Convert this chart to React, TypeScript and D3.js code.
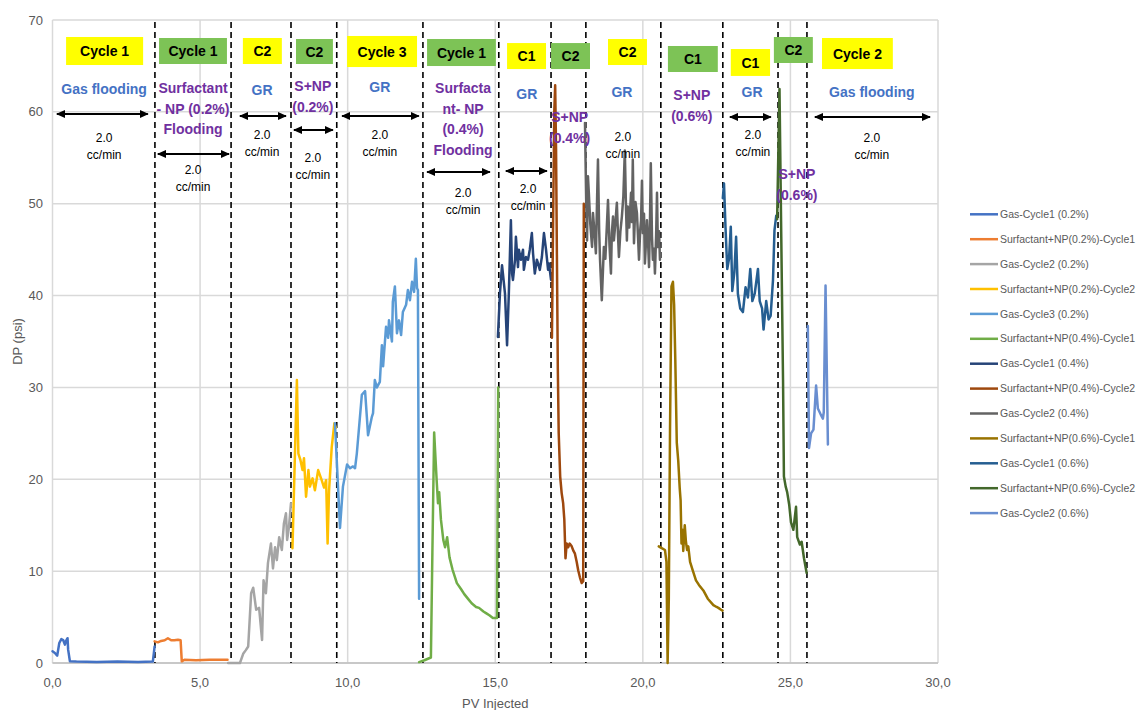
import React from "react";
import * as d3 from "d3";

// ---------- DATA ----------
const xTicks = [0, 5, 10, 15, 20, 25, 30];
const yTicks = [0, 10, 20, 30, 40, 50, 60, 70];

const seriesNames = [
  "Gas-Cycle1 (0.2%)",
  "Surfactant+NP(0.2%)-Cycle1",
  "Gas-Cycle2 (0.2%)",
  "Surfactant+NP(0.2%)-Cycle2",
  "Gas-Cycle3 (0.2%)",
  "Surfactant+NP(0.4%)-Cycle1",
  "Gas-Cycle1 (0.4%)",
  "Surfactant+NP(0.4%)-Cycle2",
  "Gas-Cycle2 (0.4%)",
  "Surfactant+NP(0.6%)-Cycle1",
  "Gas-Cycle1 (0.6%)",
  "Surfactant+NP(0.6%)-Cycle2",
  "Gas-Cycle2 (0.6%)",
];

const gasC1_02: [number, number][] = [
  [0, 1.27], [0.08, 1.09], [0.16, 0.8], [0.23, 2.18], [0.3, 2.6], [0.36, 2.5], [0.42, 2.0],
  [0.45, 2.36], [0.51, 2.7], [0.53, 1.45], [0.59, 0.18], [0.81, 0.15], [1.5, 0.12], [2.2, 0.15],
  [2.9, 0.12], [3.4, 0.15], [3.46, 1.8],
];
const surf02_C1: [number, number][] = [
  [3.46, 2.36], [3.57, 2.25], [3.68, 2.4], [3.8, 2.47], [3.91, 2.7], [4.02, 2.47], [4.13, 2.47],
  [4.25, 2.54], [4.34, 2.47], [4.38, 0.18], [4.47, 0.36], [4.86, 0.3], [5.32, 0.36], [5.93, 0.36],
];
const gasC2_02: [number, number][] = [
  [5.95, 0], [6.35, 0], [6.46, 1.0], [6.55, 1.4], [6.63, 1.8], [6.73, 7.6], [6.8, 8.2], [6.9, 5.8],
  [7.0, 6.0], [7.1, 2.5], [7.15, 9.0], [7.23, 7.6], [7.3, 10.9], [7.4, 13.0], [7.47, 10.3],
  [7.54, 12.6], [7.6, 11.2], [7.68, 13.7], [7.77, 12.3], [7.84, 15.2], [7.91, 16.3], [7.95, 13.4],
  [8.01, 14.8], [8.08, 17.4],
];
const surf02_C2: [number, number][] = [
  [8.13, 12.5], [8.28, 30.8], [8.33, 22.8], [8.4, 22.1], [8.47, 21.0], [8.52, 22.3], [8.59, 18.1],
  [8.67, 21.0], [8.72, 19.2], [8.81, 20.1], [8.89, 18.8], [9.0, 21.0], [9.12, 19.9], [9.2, 19.1],
  [9.27, 19.9], [9.32, 13.0], [9.37, 18.8], [9.46, 23.5], [9.55, 26.1], [9.6, 25.6],
];
const gasC3_02: [number, number][] = [
  [9.57, 26.1], [9.74, 14.7], [9.84, 19.2], [9.98, 21.6], [10.08, 21.2], [10.18, 21.4],
  [10.25, 21.2], [10.31, 22.8], [10.48, 29.2], [10.59, 29.6], [10.65, 26.8], [10.69, 24.8],
  [10.82, 26.8], [10.86, 27.2], [10.92, 30.8], [10.99, 30.0], [11.09, 30.6], [11.16, 34.6],
  [11.2, 32.3], [11.3, 36.6], [11.37, 35.4], [11.4, 37.3], [11.5, 35.0], [11.53, 39.3],
  [11.6, 41.0], [11.67, 35.9], [11.74, 37.3], [11.81, 35.7], [11.87, 38.2], [11.98, 39.0],
  [12.04, 40.6], [12.11, 39.5], [12.18, 41.5], [12.25, 40.4], [12.31, 44.0], [12.35, 40.8],
  [12.38, 40.6], [12.42, 7.0],
];
const surf04_C1: [number, number][] = [
  [12.42, 0.1], [12.6, 0.3], [12.82, 0.6], [12.87, 12], [12.93, 25.1], [12.98, 22], [13.02, 19.6],
  [13.06, 17.4], [13.1, 18.6], [13.16, 15.6], [13.24, 13.4], [13.3, 12.6], [13.37, 13.7],
  [13.45, 11.5], [13.55, 10.2], [13.7, 8.7], [13.85, 8.0], [13.95, 7.5], [14.1, 6.9], [14.2, 6.5],
  [14.35, 6.1], [14.45, 6.0], [14.6, 5.6], [14.7, 5.4], [14.8, 5.2], [14.92, 4.9], [15.06, 4.9],
  [15.1, 30],
];
const gasC1_04: [number, number][] = [
  [15.09, 35.5], [15.16, 40.3], [15.23, 43.3], [15.26, 42.4], [15.33, 40.2], [15.4, 34.6],
  [15.46, 40.2], [15.53, 48.2], [15.57, 42.4], [15.6, 41.7], [15.67, 43.9], [15.7, 46.4],
  [15.77, 43.1], [15.8, 45.0], [15.87, 43.9], [15.94, 45.0], [15.97, 42.8], [16.04, 44.2],
  [16.11, 43.9], [16.17, 45.0], [16.24, 46.8], [16.28, 44.6], [16.34, 42.4], [16.41, 43.9],
  [16.45, 43.5], [16.51, 42.8], [16.58, 44.2], [16.65, 46.8], [16.72, 45.0], [16.79, 42.8],
  [16.82, 43.5], [16.89, 41.7],
];
const surf04_C2: [number, number][] = [
  [16.92, 35.4], [16.96, 48], [17.0, 60], [17.03, 62.9], [17.06, 56], [17.09, 43.9], [17.12, 32],
  [17.15, 25], [17.2, 20.3], [17.25, 18.5], [17.3, 17.4], [17.34, 15.6], [17.38, 11.4],
  [17.42, 13.0], [17.47, 12.6], [17.52, 13.0], [17.59, 12.7], [17.65, 12.2], [17.7, 11.9],
  [17.76, 11.0], [17.81, 10.1], [17.87, 9.3], [17.93, 8.7], [17.98, 8.9], [18.0, 50],
];
const gasC2_04: [number, number][] = [
  [18.04, 58.8], [18.08, 50.5], [18.11, 46], [18.14, 53], [18.17, 51.2], [18.22, 47.8],
  [18.28, 45.3], [18.31, 49], [18.36, 47], [18.41, 44.6], [18.45, 50.5], [18.48, 54.8],
  [18.52, 47.2], [18.55, 43.9], [18.61, 39.5], [18.65, 42.8], [18.68, 45.3], [18.73, 44.0],
  [18.78, 47.5], [18.82, 50.4], [18.87, 45.5], [18.92, 42.4], [18.95, 46.8], [18.99, 48.6],
  [19.02, 46], [19.07, 47.9], [19.12, 50.1], [19.16, 46.5], [19.19, 44.2], [19.24, 47.0],
  [19.29, 48.6], [19.34, 50.8], [19.39, 55.8], [19.43, 49.5], [19.46, 46], [19.49, 49.7],
  [19.54, 47.4], [19.6, 51.2], [19.63, 48.0], [19.66, 54.8], [19.7, 45.7], [19.75, 50.2],
  [19.8, 49], [19.84, 46.2], [19.87, 43.9], [19.91, 47.1], [19.94, 48.2], [19.97, 52.5],
  [20.0, 46.8], [20.04, 48.9], [20.07, 43.5], [20.11, 46.0], [20.14, 48.2], [20.18, 45.6],
  [20.21, 43.1], [20.24, 47.7], [20.27, 54.4], [20.31, 46.4], [20.34, 43.9], [20.38, 45.1],
  [20.41, 42.4], [20.45, 46.5], [20.48, 51.2], [20.51, 45.3], [20.55, 47.0], [20.58, 43.9],
];
const surf06_C1: [number, number][] = [
  [20.54, 12.7], [20.64, 12.5], [20.75, 12.3], [20.8, 11.0], [20.84, 0], [20.88, 7], [20.92, 25],
  [20.97, 41.0], [21.02, 41.5], [21.06, 39], [21.1, 33], [21.15, 24], [21.2, 22], [21.25, 19],
  [21.28, 17.7], [21.31, 13.0], [21.34, 14.5], [21.37, 12.2], [21.42, 15.0], [21.46, 13.2],
  [21.5, 12.3], [21.54, 12.7], [21.6, 11.0], [21.71, 9.9], [21.8, 9.0], [21.9, 8.5],
  [22.05, 7.9], [22.2, 7.0], [22.39, 6.3], [22.5, 6.1], [22.56, 6.0], [22.65, 5.8], [22.7, 5.7],
];
const gasC1_06: [number, number][] = [
  [22.71, 50.6], [22.75, 52.2], [22.8, 47.5], [22.86, 42.9], [22.92, 44.0], [22.98, 47.5],
  [23.03, 40.5], [23.1, 42.5], [23.16, 46.4], [23.22, 40.2], [23.3, 38.6], [23.39, 38.2],
  [23.48, 40.9], [23.56, 39.8], [23.64, 42.9], [23.71, 39.4], [23.79, 40.2], [23.9, 42.9],
  [23.96, 39.4], [24.04, 38.6], [24.09, 36.3], [24.18, 39.4], [24.26, 37.4], [24.33, 37.8],
  [24.41, 41.7], [24.46, 47.1], [24.52, 48.7],
];
const surf06_C2: [number, number][] = [
  [24.55, 48.3], [24.63, 62.5], [24.69, 46.4], [24.75, 30.8], [24.78, 20.3], [24.84, 19.2],
  [24.89, 18.6], [24.96, 17.2], [25.02, 15.3], [25.1, 14.5], [25.19, 17.0], [25.23, 13.7],
  [25.32, 12.9], [25.38, 13.2], [25.46, 11.4], [25.55, 9.8],
];
const gasC2_06: [number, number][] = [
  [25.59, 36.7], [25.63, 23.4], [25.7, 25.0], [25.78, 25.4], [25.87, 30.2], [25.93, 27.7],
  [26.02, 27.1], [26.1, 26.6], [26.13, 27.3], [26.19, 41.1], [26.27, 23.8],
];

const seriesData = [
  gasC1_02, surf02_C1, gasC2_02, surf02_C2, gasC3_02, surf04_C1, gasC1_04,
  surf04_C2, gasC2_04, surf06_C1, gasC1_06, surf06_C2, gasC2_06,
];

// stage boundaries (PV injected)
const stageBoundaries = [3.47, 6.05, 8.08, 9.63, 12.55, 15.12, 16.89, 18.07, 20.61, 22.71, 24.58, 25.56];

// cycle tags: label, kind, x0, x1, yTop, yBottom (data units)
const tagLabels = ["Cycle 1", "Cycle 1", "C2", "C2", "Cycle 3", "Cycle 1", "C1", "C2", "C2", "C1", "C1", "C2", "Cycle 2"];
const tagKinds = ["gas", "surf", "gas", "surf", "gas", "surf", "gas", "surf", "gas", "surf", "gas", "surf", "gas"];
const tagX0 = [0.46, 3.61, 6.45, 8.25, 9.98, 12.69, 15.4, 16.89, 18.82, 20.85, 22.98, 24.44, 26.07];
const tagX1 = [3.07, 5.91, 7.77, 9.5, 12.35, 15.02, 16.72, 18.21, 20.14, 22.54, 24.31, 25.76, 28.47];
const tagYTop = [68.15, 68.04, 68.04, 67.93, 68.26, 67.93, 67.49, 67.49, 67.93, 67.17, 66.84, 68.15, 68.04];
const tagYBot = [65.1, 65.21, 65.21, 65.21, 64.88, 64.99, 64.66, 64.66, 65.1, 64.34, 63.91, 65.32, 64.66];

// stage descriptions: lines, kind, x, y of first line (data units)
const stageLines = [
  ["Gas flooding"],
  ["Surfactant", "- NP (0.2%)", "Flooding"],
  ["GR"],
  ["S+NP", "(0.2%)"],
  ["GR"],
  ["Surfacta", "nt- NP", "(0.4%)", "Flooding"],
  ["GR"],
  ["S+NP", "(0.4%)"],
  ["GR"],
  ["S+NP", "(0.6%)"],
  ["GR"],
  ["S+NP", "(0.6%)"],
  ["Gas flooding"],
];
const stageKinds = ["gas", "surf", "gas", "surf", "gas", "surf", "gas", "surf", "gas", "surf", "gas", "surf", "gas"];
const stageX = [1.75, 4.76, 7.1, 8.82, 11.09, 13.91, 16.07, 17.52, 19.29, 21.66, 23.7, 25.22, 27.76];
const stageY = [62.49, 62.6, 62.4, 62.8, 62.7, 62.6, 61.9, 59.4, 62.2, 61.83, 62.2, 53.2, 62.2];

// rate notes "2.0 cc/min"
const rateValue = "2.0";
const rateUnit = "cc/min";
const rateX = [1.75, 4.76, 7.1, 8.82, 11.09, 13.91, 16.11, 19.32, 23.73, 27.76];
const rateY = [57.15, 53.67, 57.48, 54.97, 57.48, 51.16, 51.6, 57.26, 57.48, 57.15];

// double arrows (x0, x1, y)
const arrowX0 = [0.15, 3.57, 6.35, 8.18, 9.81, 12.69, 15.36, 22.95, 25.83];
const arrowX1 = [3.23, 5.98, 7.91, 9.5, 12.41, 14.82, 16.75, 24.34, 29.73];
const arrowY = [59.77, 55.41, 59.55, 58.03, 59.55, 53.45, 53.56, 59.44, 59.44];

const xTitle = "PV Injected";
const yTitle = "DP (psi)";

// ---------- STYLE ----------
const seriesColors = [
  "#4472C4", "#ED7D31", "#A5A5A5", "#FFC000", "#5B9BD5", "#70AD47", "#264478",
  "#9E480E", "#636363", "#997300", "#255E91", "#43682B", "#698ED0",
];
const W = 1139;
const H = 710;
const plot = { left: 52.5, right: 938, top: 20, bottom: 663 };
const FONT = "'Liberation Sans', Arial, sans-serif";
const tagFill: Record<string, string> = { gas: "#FFFF00", surf: "#7DC356" };
const textFill: Record<string, string> = { gas: "#4472C4", surf: "#7030A0" };

export default function App() {
  const x = d3.scaleLinear().domain([0, 30]).range([plot.left, plot.right]);
  const y = d3.scaleLinear().domain([0, 70]).range([plot.bottom, plot.top]);
  const line = d3
    .line<[number, number]>()
    .x((d) => x(d[0]))
    .y((d) => y(d[1]));
  const fmt = (v: number) => d3.format(".1f")(v).replace(".", ",");

  return (
    <svg
      width={W}
      height={H}
      style={{ position: "absolute", left: 0, top: 0, background: "#fff" }}
      fontFamily={FONT}
    >
      <defs>
        <marker
          id="ah"
          viewBox="0 0 10 10"
          refX="9"
          refY="5"
          markerWidth="9"
          markerHeight="9"
          markerUnits="userSpaceOnUse"
          orient="auto-start-reverse"
        >
          <path d="M0,0.5 L10,5 L0,9.5 z" fill="#000" />
        </marker>
      </defs>
      <rect x={0} y={0} width={W} height={H} fill="#fff" />

      {/* grid */}
      {yTicks.map((t) => (
        <line key={"gy" + t} x1={plot.left} x2={plot.right} y1={y(t)} y2={y(t)} stroke="#D9D9D9" strokeWidth={1.5} />
      ))}
      {xTicks.map((t) => (
        <line key={"gx" + t} x1={x(t)} x2={x(t)} y1={plot.top} y2={plot.bottom} stroke="#D9D9D9" strokeWidth={1.5} />
      ))}
      <line x1={plot.left} x2={plot.right} y1={plot.bottom} y2={plot.bottom} stroke="#BFBFBF" strokeWidth={1.5} />

      {/* tick labels */}
      {yTicks.map((t) => (
        <text key={"ly" + t} x={43} y={y(t)} dy="0.35em" textAnchor="end" fontSize={13} fill="#595959">
          {t}
        </text>
      ))}
      {xTicks.map((t) => (
        <text key={"lx" + t} x={x(t)} y={687} textAnchor="middle" fontSize={13} fill="#595959">
          {fmt(t)}
        </text>
      ))}
      <text x={(plot.left + plot.right) / 2} y={708} textAnchor="middle" fontSize={13} fill="#595959">
        {xTitle}
      </text>
      <text
        transform={`translate(22,${(plot.top + plot.bottom) / 2}) rotate(-90)`}
        textAnchor="middle"
        fontSize={13}
        fill="#595959"
      >
        {yTitle}
      </text>

      {/* stage boundaries */}
      {stageBoundaries.map((b, i) => (
        <line
          key={"sb" + i}
          x1={x(b)}
          x2={x(b)}
          y1={plot.top + 2}
          y2={plot.bottom}
          stroke="#000"
          strokeWidth={1.6}
          strokeDasharray="6,4"
        />
      ))}

      {/* series */}
      {seriesData.map((s, i) => (
        <path
          key={"s" + i}
          d={line(s) || ""}
          fill="none"
          stroke={seriesColors[i]}
          strokeWidth={2.5}
          strokeLinejoin="round"
          strokeLinecap="round"
        />
      ))}

      {/* cycle tags */}
      {tagLabels.map((lab, i) => {
        const x0 = x(tagX0[i]);
        const x1 = x(tagX1[i]);
        const y0 = y(tagYTop[i]);
        const y1 = y(tagYBot[i]);
        return (
          <g key={"tag" + i}>
            <rect x={x0} y={y0} width={x1 - x0} height={y1 - y0} fill={tagFill[tagKinds[i]]} />
            <text x={(x0 + x1) / 2} y={(y0 + y1) / 2} dy="0.36em" textAnchor="middle" fontSize={14} fontWeight="bold" fill="#000">
              {lab}
            </text>
          </g>
        );
      })}

      {/* stage descriptions */}
      {stageLines.map((lines, i) => (
        <text
          key={"st" + i}
          x={x(stageX[i])}
          y={y(stageY[i])}
          textAnchor="middle"
          fontSize={14}
          fontWeight="bold"
          fill={textFill[stageKinds[i]]}
        >
          {lines.map((l, j) => (
            <tspan key={j} x={x(stageX[i])} y={y(stageY[i]) + j * 20.5} dy="0.36em">
              {l}
            </tspan>
          ))}
        </text>
      ))}

      {/* rate notes */}
      {rateX.map((rx, i) => (
        <text key={"r" + i} x={x(rx)} y={y(rateY[i])} textAnchor="middle" fontSize={12} fill="#000">
          <tspan x={x(rx)} dy="0.36em">{rateValue}</tspan>
          <tspan x={x(rx)} dy={16.5}>{rateUnit}</tspan>
        </text>
      ))}

      {/* arrows */}
      {arrowX0.map((ax, i) => (
        <line
          key={"a" + i}
          x1={x(ax)}
          x2={x(arrowX1[i])}
          y1={y(arrowY[i])}
          y2={y(arrowY[i])}
          stroke="#000"
          strokeWidth={2}
          markerStart="url(#ah)"
          markerEnd="url(#ah)"
        />
      ))}

      {/* legend */}
      {seriesNames.map((n, i) => {
        const ly = 214.3 + i * 24.9;
        return (
          <g key={"lg" + i}>
            <line x1={970} x2={998} y1={ly} y2={ly} stroke={seriesColors[i]} strokeWidth={2.5} />
            <text x={1000} y={ly} dy="0.35em" fontSize={10.5} fill="#595959">
              {n}
            </text>
          </g>
        );
      })}
    </svg>
  );
}
